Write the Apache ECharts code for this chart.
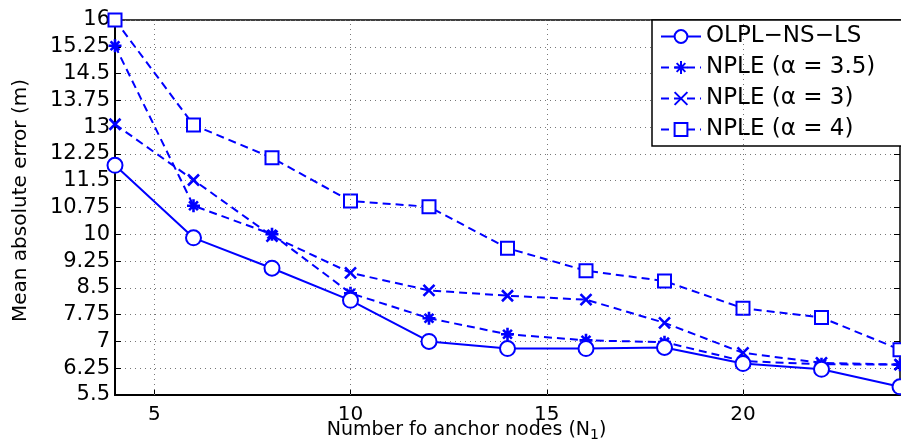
<!DOCTYPE html>
<html>
<head>
<meta charset="utf-8">
<script src="https://cdn.jsdelivr.net/npm/echarts@6/dist/echarts.min.js"></script>
<style>html,body{margin:0;padding:0;background:#fff;}#c{width:901px;height:446px;}</style>
</head>
<body>
<div id="c"></div>
<script>
const xValues = [4, 6, 8, 10, 12, 14, 16, 18, 20, 22, 24];
const olplNsLs = [11.93, 9.90, 9.05, 8.15, 7.00, 6.80, 6.80, 6.83, 6.38, 6.22, 5.73];
const nple35 = [15.28, 10.80, 10.00, 8.35, 7.65, 7.20, 7.03, 6.98, 6.45, 6.36, 6.35];
const nple3 = [13.08, 11.52, 9.95, 8.92, 8.43, 8.28, 8.17, 7.52, 6.68, 6.40, 6.35];
const nple4 = [16.00, 13.06, 12.14, 10.93, 10.77, 9.61, 8.98, 8.69, 7.93, 7.67, 6.77];
const seriesNames = ['OLPL\u2212NS\u2212LS', 'NPLE (\u03b1 = 3.5)', 'NPLE (\u03b1 = 3)', 'NPLE (\u03b1 = 4)'];
const xTickValues = [5, 10, 15, 20];

const blue = '#0000ff';
const font = 'DejaVu Sans';
const pair = arr => arr.map((v, i) => [xValues[i], v]);
const asterisk = 'path://M0,5L10,5M5,0L5,10M1.6,1.6L8.4,8.4M8.4,1.6L1.6,8.4';
const cross = 'path://M0,0L10,10M10,0L0,10';
const dash = [8, 5];

const chart = echarts.init(document.getElementById('c'), null, {renderer: 'canvas'});
chart.setOption({
  backgroundColor: '#fff',
  animation: false,
  grid: {left: 115, right: 1, top: 20, bottom: 51, outerBoundsMode: 'none', containLabel: false,
    show: true, borderColor: '#000', borderWidth: 1.5, backgroundColor: 'transparent'},
  legend: {
    left: 652, top: 20, orient: 'vertical',
    backgroundColor: '#fff', borderColor: '#000', borderWidth: 1.5,
    padding: [5, 40, 5, 8], itemGap: 8, itemWidth: 40, itemHeight: 16,
    textStyle: {fontFamily: font, fontSize: 23, color: '#000'},
    data: seriesNames
  },
  xAxis: {
    type: 'value', min: 4, max: 24,
    name: 'Number fo anchor nodes (N{sub|1})',
    nameLocation: 'middle', nameGap: 23, nameMoveOverlap: false,
    nameTextStyle: {fontFamily: font, fontSize: 19, color: '#000', padding: [0, 82, 0, 0],
      rich: {sub: {fontFamily: font, fontSize: 14, color: '#000', padding: [10, 0, 0, 0]}}},
    axisLine: {lineStyle: {color: '#000', width: 2}},
    axisTick: {inside: true, length: 6, customValues: xTickValues, lineStyle: {color: '#000'}},
    axisLabel: {customValues: xTickValues, fontFamily: font, fontSize: 20, color: '#000', margin: 10},
    splitLine: {show: false}
  },
  yAxis: [{
    type: 'value', min: 5.5, max: 16, interval: 0.75,
    name: 'Mean absolute error (m)', nameLocation: 'middle', nameGap: 84, nameMoveOverlap: false,
    nameTextStyle: {fontFamily: font, fontSize: 20, color: '#000', padding: [0, 0, 0, 14]},
    axisLine: {show: true, lineStyle: {color: '#000', width: 2}},
    axisTick: {show: true, inside: true, length: 6, lineStyle: {color: '#000'}},
    axisLabel: {fontFamily: font, fontSize: 21, color: '#000', margin: 5,
      formatter: v => String(parseFloat(v.toFixed(2)))},
    splitLine: {show: true, lineStyle: {color: '#777', type: [1, 4], width: 1}}
  }, {
    type: 'value', min: 5.5, max: 16, interval: 0.75, position: 'right',
    axisLine: {show: false}, axisLabel: {show: false},
    axisTick: {show: true, inside: true, length: 6, lineStyle: {color: '#000'}},
    splitLine: {show: false}
  }],
  series: [
    {
      name: seriesNames[0], type: 'line', data: pair(olplNsLs),
      symbol: 'emptyCircle', symbolSize: 15, color: blue,
      lineStyle: {color: blue, width: 2},
      itemStyle: {color: blue, borderColor: blue, borderWidth: 2},
      markLine: {
        silent: true, symbol: 'none', label: {show: false},
        lineStyle: {color: '#777', type: [1, 4], width: 1},
        data: xTickValues.map(v => ({xAxis: v}))
      },
      z: 5
    },
    {
      name: seriesNames[1], type: 'line', data: pair(nple35),
      symbol: asterisk, symbolSize: 13, color: blue,
      lineStyle: {color: blue, width: 2, type: dash},
      itemStyle: {color: blue, borderColor: blue, borderWidth: 2.6}
    },
    {
      name: seriesNames[2], type: 'line', data: pair(nple3),
      symbol: cross, symbolSize: 11, color: blue,
      lineStyle: {color: blue, width: 2, type: dash},
      itemStyle: {color: blue, borderColor: blue, borderWidth: 2.6}
    },
    {
      name: seriesNames[3], type: 'line', data: pair(nple4),
      symbol: 'emptyRect', symbolSize: 13, color: blue,
      lineStyle: {color: blue, width: 2, type: dash},
      itemStyle: {color: blue, borderColor: blue, borderWidth: 2}
    }
  ]
});
</script>
</body>
</html>
